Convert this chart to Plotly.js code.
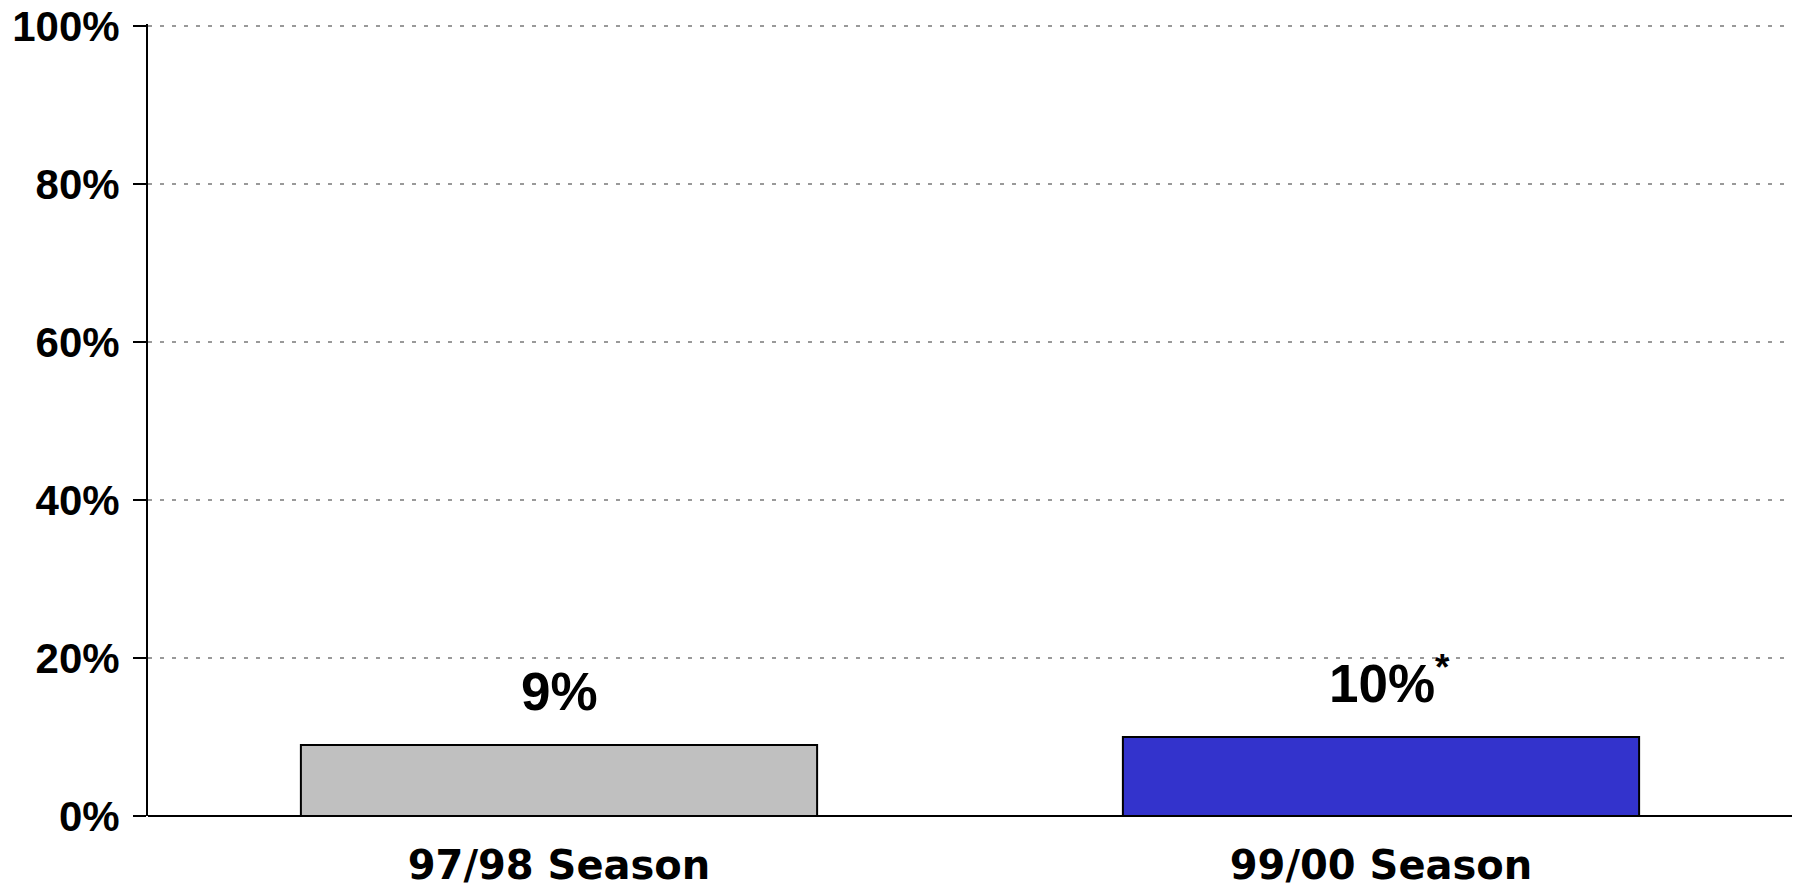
<!DOCTYPE html>
<html>
<head>
<meta charset="utf-8">
<script src="https://cdn.plot.ly/plotly-3.0.1.min.js"></script>
<style>
  html, body { margin: 0; padding: 0; background: #fff; }
  #chart { width: 1804px; height: 887px; }
</style>
</head>
<body>
<div id="chart"></div>
<script>
// data
const seasons = ['97/98 Season', '99/00 Season'];
const shares = [9, 10];
const barLabels = ['9%', '10%'];
const labelNotes = ['', '*'];
const barColors = ['#c0c0c0', '#3333cc'];

const trace = {
    type: 'bar',
    x: seasons,
    y: shares,
    marker: { color: barColors, line: { color: '#000', width: 2 } },
    hoverinfo: 'x+y'
};

// value labels above the bars, the asterisk hangs off to the right
const annotations = seasons.map(function (s, i) {
    const note = labelNotes[i];
    return {
        x: s,
        y: shares[i],
        xref: 'x',
        yref: 'y',
        yanchor: 'bottom',
        yshift: 22,
        xshift: note ? 8 : 0,
        showarrow: false,
        text: barLabels[i] + (note ? '<sup>' + note + '</sup>' : ''),
        font: { family: 'Liberation Sans, Arial, sans-serif', size: 53, color: '#000', weight: 'bold' }
    };
});

const layout = {
    width: 1804,
    height: 887,
    // top slightly above the 100% line so that gridline is drawn
    margin: { l: 148, r: 12, t: 24, b: 71 },
    paper_bgcolor: '#fff',
    plot_bgcolor: '#fff',
    showlegend: false,
    bargap: 0.372,
    xaxis: {
        type: 'category',
        range: [-0.5, 1.5],
        showgrid: false,
        zeroline: false,
        showline: false,
        ticks: '',
        automargin: false,
        ticklabelstandoff: 22,
        tickfont: { family: 'DejaVu Sans, Verdana, sans-serif', size: 40, color: '#000', weight: 'bold' }
    },
    yaxis: {
        range: [0, 100.25],
        tick0: 0,
        dtick: 20,
        ticksuffix: '%',
        showgrid: true,
        gridcolor: '#999999',
        gridwidth: 2,
        griddash: '4px,8px',
        zeroline: true,
        zerolinecolor: '#000',
        zerolinewidth: 2,
        showline: true,
        linecolor: '#000',
        linewidth: 2,
        ticks: 'outside',
        ticklen: 13,
        tickwidth: 2,
        tickcolor: '#000',
        ticklabelstandoff: 5,
        automargin: false,
        tickfont: { family: 'Liberation Sans, Arial, sans-serif', size: 42, color: '#000', weight: 'bold' }
    },
    annotations: annotations
};

Plotly.newPlot('chart', [trace], layout, { displayModeBar: false, staticPlot: true });
</script>
</body>
</html>
